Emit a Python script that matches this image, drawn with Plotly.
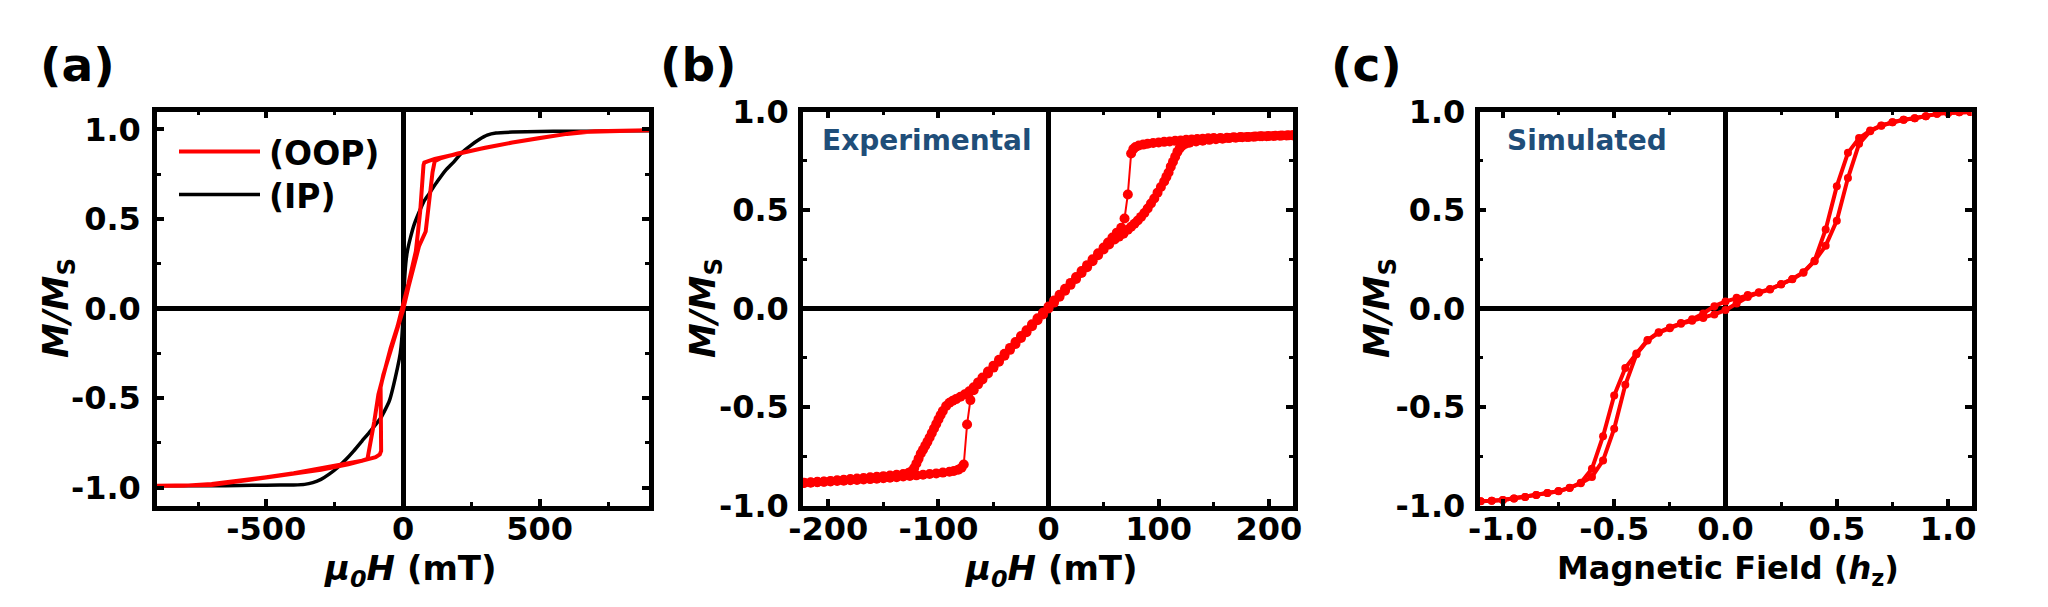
import plotly.graph_objects as go

RED = "#ff0000"
BLACK = "#000000"
LABEL_BLUE = "#1f4e79"
FONT = "DejaVu Sans"
W, H = 2048, 607

# ---- (a) OOP / IP loops, mu0H in mT ----
A_IP_H = [-900, -800, -700, -600, -500, -400, -360, -330, -300, -270, -240, -210, -180,
          -150, -117, -81, -50, -20, -10, -5, 0, 4, 10, 16, 28, 41, 65, 77, 95, 126, 155,
          187, 215, 247, 280, 308, 340, 400, 500, 600, 700, 800, 900]
A_IP_M = [-0.99, -0.99, -0.99, -0.988, -0.987, -0.985, -0.982, -0.972, -0.954, -0.925,
          -0.889, -0.845, -0.795, -0.74, -0.68, -0.61, -0.516, -0.33, -0.25, -0.18, -0.05,
          0.11, 0.25, 0.32, 0.40, 0.47, 0.56, 0.60, 0.64, 0.71, 0.77, 0.82, 0.87, 0.91,
          0.945, 0.968, 0.98, 0.985, 0.988, 0.99, 0.99, 0.992, 0.993]

A_OOP_DOWN_H = [900, 800, 700, 650, 600, 500, 400, 300, 200, 150, 116, 90, 78, 75, 70, 63,
                55, 47, 20, 0, -20, -45, -72, -90, -105, -115, -123, -130, -150, -200,
                -300, -400, -500, -600, -700, -800, -900]
A_OOP_DOWN_M = [0.995, 0.993, 0.99, 0.985, 0.975, 0.952, 0.927, 0.898, 0.866, 0.85, 0.835,
                0.822, 0.815, 0.80, 0.68, 0.544, 0.43, 0.32, 0.14, 0.01, -0.10, -0.22,
                -0.37, -0.48, -0.63, -0.72, -0.80, -0.84, -0.85, -0.865, -0.895, -0.92,
                -0.942, -0.962, -0.98, -0.99, -0.99]

A_OOP_UP_H = [-900, -800, -700, -600, -500, -400, -300, -200, -130, -100, -85, -80, -81,
              -82, -72, -45, -20, 0, 20, 40, 59, 83, 99, 108, 116, 140, 200, 300, 400,
              500, 600, 700, 800, 900]
A_OOP_UP_M = [-0.99, -0.99, -0.985, -0.965, -0.945, -0.922, -0.90, -0.87, -0.845, -0.83,
              -0.815, -0.795, -0.60, -0.44, -0.37, -0.23, -0.11, -0.01, 0.12, 0.25, 0.35,
              0.43, 0.655, 0.76, 0.823, 0.84, 0.866, 0.898, 0.927, 0.952, 0.975, 0.99,
              0.993, 0.995]

# ---- (b) experimental loop, mu0H in mT ----
B_DOWN_H = [222, 216, 210, 204, 198, 192, 186, 180, 174, 168, 162, 156, 150, 145, 140, 135,
            130, 125, 120, 115, 110, 105, 100, 95, 90, 86, 82, 79, 77, 75, 72, 69, 66, 62,
            58, 54, 50, 45, 40, 35, 30, 25, 20, 15, 10, 5, 0, -5, -10, -15, -20, -25, -30,
            -35, -40, -45, -50, -55, -60, -64, -68, -72, -76, -80, -84, -87, -90, -93, -96,
            -98, -100, -102, -104, -106, -108, -110, -112, -114, -116, -118, -120, -122,
            -124, -127, -132, -138, -144, -150, -156, -162, -168, -174, -180, -186, -192,
            -198, -204, -210, -216, -222]
B_DOWN_M = [0.879, 0.878, 0.877, 0.876, 0.875, 0.874, 0.872, 0.871, 0.870, 0.869, 0.867,
            0.866, 0.865, 0.864, 0.862, 0.860, 0.858, 0.856, 0.853, 0.851, 0.848, 0.846,
            0.843, 0.840, 0.836, 0.832, 0.827, 0.820, 0.810, 0.787, 0.579, 0.457, 0.410,
            0.385, 0.360, 0.335, 0.310, 0.280, 0.250, 0.220, 0.190, 0.160, 0.130, 0.100,
            0.070, 0.040, 0.010, -0.020, -0.050, -0.080, -0.110, -0.140, -0.170, -0.200,
            -0.230, -0.260, -0.290, -0.320, -0.350, -0.375, -0.400, -0.420, -0.435,
            -0.448, -0.460, -0.468, -0.478, -0.495, -0.520, -0.541, -0.563, -0.586,
            -0.609, -0.632, -0.655, -0.677, -0.697, -0.717, -0.736, -0.762, -0.787,
            -0.810, -0.825, -0.834, -0.840, -0.844, -0.848, -0.851, -0.854, -0.857,
            -0.860, -0.863, -0.866, -0.869, -0.872, -0.875, -0.878, -0.880, -0.882, -0.884]

B_UP_H = [-222, -216, -210, -204, -198, -192, -186, -180, -174, -168, -162, -156, -150,
          -144, -138, -132, -126, -120, -114, -108, -102, -96, -90, -86, -82, -79, -77, -74,
          -71, -68, -64, -60, -55, -50, -45, -40, -35, -30, -25, -20, -15, -10, -5, 0, 5,
          10, 15, 20, 25, 30, 35, 40, 45, 50, 55, 60, 64, 68, 72, 75, 78, 81, 84, 87, 90,
          93, 96, 99, 102, 105, 107, 109, 111, 113, 115, 117, 119, 121, 124, 128, 134, 140,
          146, 152, 158, 164, 170, 176, 182, 188, 194, 200, 206, 212, 218, 222]
B_UP_M = [-0.886, -0.884, -0.882, -0.880, -0.878, -0.876, -0.874, -0.872, -0.870, -0.868,
          -0.866, -0.864, -0.862, -0.859, -0.856, -0.853, -0.850, -0.847, -0.844, -0.840,
          -0.837, -0.833, -0.829, -0.825, -0.818, -0.808, -0.792, -0.589, -0.465, -0.415,
          -0.385, -0.360, -0.330, -0.300, -0.270, -0.240, -0.210, -0.180, -0.150, -0.120,
          -0.090, -0.060, -0.030, 0.000, 0.030, 0.060, 0.090, 0.120, 0.150, 0.180, 0.210,
          0.240, 0.270, 0.300, 0.325, 0.350, 0.365, 0.380, 0.400, 0.415, 0.430, 0.447,
          0.465, 0.485, 0.508, 0.533, 0.558, 0.588, 0.617, 0.645, 0.668, 0.690, 0.720,
          0.745, 0.770, 0.795, 0.812, 0.825, 0.835, 0.842, 0.848, 0.852, 0.856, 0.859,
          0.862, 0.865, 0.867, 0.869, 0.871, 0.873, 0.875, 0.876, 0.877, 0.878, 0.879,
          0.880]

# ---- (c) simulated loop, reduced field h_z ----
C_H = [1.1, 1.05, 1.0, 0.95, 0.9, 0.85, 0.8, 0.75, 0.7, 0.65, 0.6, 0.55, 0.5, 0.45, 0.4,
       0.35, 0.3, 0.25, 0.2, 0.15, 0.1, 0.05, 0.0, -0.05, -0.1, -0.15, -0.2, -0.25, -0.3,
       -0.35, -0.4, -0.45, -0.5, -0.55, -0.6, -0.65, -0.7, -0.75, -0.8, -0.85, -0.9, -0.95,
       -1.0, -1.05, -1.1]
C_DOWN_M = [0.997, 0.996, 0.993, 0.988, 0.976, 0.966, 0.958, 0.946, 0.929, 0.903, 0.865,
            0.790, 0.621, 0.401, 0.243, 0.184, 0.150, 0.124, 0.099, 0.082, 0.068, 0.055,
            0.036, 0.012, -0.025, -0.055, -0.074, -0.096, -0.120, -0.160, -0.229, -0.302,
            -0.441, -0.648, -0.814, -0.885, -0.910, -0.927, -0.937, -0.947, -0.957,
            -0.964, -0.972, -0.976, -0.978]
C_UP_M = [0.997, 0.996, 0.993, 0.988, 0.976, 0.966, 0.958, 0.946, 0.928, 0.900, 0.836,
          0.662, 0.446, 0.319, 0.240, 0.182, 0.148, 0.122, 0.097, 0.080, 0.058, 0.025,
          -0.008, -0.030, -0.048, -0.062, -0.078, -0.100, -0.123, -0.163, -0.232, -0.387,
          -0.610, -0.771, -0.855, -0.887, -0.911, -0.928, -0.937, -0.947, -0.957, -0.964,
          -0.972, -0.976, -0.978]

M_TICKS = [-1.0, -0.5, 0.0, 0.5, 1.0]
M_TICKTEXT = ["-1.0", "-0.5", "0.0", "0.5", "1.0"]
A_TICKS = [-500, 0, 500]
B_TICKS = [-200, -100, 0, 100, 200]
C_TICKS = [-1.0, -0.5, 0.0, 0.5, 1.0]


def px_x(v):
    return v / W


def px_y(v):
    return 1 - v / H


def axis(domain, rng, vals, text, minor_dtick, anchor, standoff):
    return dict(
        domain=domain, range=rng, anchor=anchor, automargin=False,
        showline=True, mirror="ticks", linecolor=BLACK, linewidth=4.5,
        ticks="inside", ticklen=7, tickwidth=4, tickcolor=BLACK,
        tickvals=vals, ticktext=text, ticklabelstandoff=standoff,
        minor=dict(ticks="inside", ticklen=4, tickwidth=3, tickcolor=BLACK,
                   dtick=minor_dtick, tick0=0, showgrid=False),
        showgrid=False, zeroline=True, zerolinecolor=BLACK, zerolinewidth=4.5,
        tickfont=dict(family=FONT, size=32, color=BLACK, weight="bold"),
    )


fig = go.Figure()
fig.add_trace(go.Scatter(x=A_IP_H, y=A_IP_M, mode="lines", name="(IP)",
                         line=dict(color=BLACK, width=3.5, shape="spline", smoothing=0.5),
                         xaxis="x", yaxis="y"))
fig.add_trace(go.Scatter(x=A_OOP_DOWN_H + A_OOP_UP_H, y=A_OOP_DOWN_M + A_OOP_UP_M,
                         mode="lines", name="(OOP)", line=dict(color=RED, width=4),
                         xaxis="x", yaxis="y"))
for hs, ms in [(B_DOWN_H, B_DOWN_M), (B_UP_H, B_UP_M)]:
    fig.add_trace(go.Scatter(x=hs, y=ms, mode="lines+markers",
                             line=dict(color=RED, width=2), marker=dict(color=RED, size=10),
                             xaxis="x2", yaxis="y2"))
for ms in [C_DOWN_M, C_UP_M]:
    fig.add_trace(go.Scatter(x=C_H, y=ms, mode="lines+markers",
                             line=dict(color=RED, width=4), marker=dict(color=RED, size=8),
                             xaxis="x3", yaxis="y3"))

dom_a = [px_x(149), px_x(641)]
dom_b = [px_x(795), px_x(1285)]
dom_c = [px_x(1471.5), px_x(1963.5)]
dom_y = [px_y(497.5), px_y(103.5)]

fig.update_layout(
    width=W, height=H, margin=dict(l=0, r=0, t=0, b=0),
    paper_bgcolor="white", plot_bgcolor="white", showlegend=False,
    font=dict(family=FONT, color=BLACK),
    xaxis=axis(dom_a, [-900, 900], A_TICKS, ["-500", "0", "500"], 250, "y", -9),
    yaxis=axis(dom_y, [-1.1, 1.1], M_TICKS, M_TICKTEXT, 0.25, "x", 5),
    xaxis2=axis(dom_b, [-223, 222], B_TICKS, ["-200", "-100", "0", "100", "200"], 50, "y2", -9),
    yaxis2=axis(dom_y, [-1.0, 1.0], M_TICKS, M_TICKTEXT, 0.25, "x2", 3),
    xaxis3=axis(dom_c, [-1.105, 1.105], C_TICKS, M_TICKTEXT, 0.25, "y3", -9),
    yaxis3=axis(dom_y, [-1.0, 1.0], M_TICKS, M_TICKTEXT, 0.25, "x3", 3),
)

ann = []


def text(x, y, s, size, **kw):
    ann.append(dict(x=px_x(x), y=px_y(y), xref="paper", yref="paper", text=s,
                    showarrow=False, font=dict(family=FONT, size=size,
                                               color=kw.pop("color", BLACK), weight="bold"),
                    **kw))


# panel labels
for x, s in [(30, "(a)"), (650, "(b)"), (1321, "(c)")]:
    text(x, 57, s, 47, xanchor="left", yanchor="middle")

# axis titles
mu0h = "<i>μ</i><sub><i>0</i></sub><i>H</i> (mT)"
mms = "<i>M/M</i><sub>S</sub>"
text(402, 562, mu0h, 34, xanchor="center", yanchor="middle")
text(1043, 562, mu0h, 34, xanchor="center", yanchor="middle")
text(1720, 562, "Magnetic Field (<i>h</i><sub>z</sub>)", 32, xanchor="center", yanchor="middle")
for x in [50, 697, 1371]:
    text(x, 300, mms, 35, xanchor="center", yanchor="middle", textangle=-90)

# in-panel labels
text(812, 132, "Experimental", 28, xanchor="left", yanchor="middle", color=LABEL_BLUE)
text(1497, 132, "Simulated", 28, xanchor="left", yanchor="middle", color=LABEL_BLUE)

# legend for (a)
text(259, 145, "(OOP)", 33, xanchor="left", yanchor="middle")
text(259, 188, "(IP)", 33, xanchor="left", yanchor="middle")
fig.update_layout(annotations=ann, shapes=[
    dict(type="line", xref="paper", yref="paper", x0=px_x(171), x1=px_x(252),
         y0=px_y(143.5), y1=px_y(143.5), line=dict(color=RED, width=4)),
    dict(type="line", xref="paper", yref="paper", x0=px_x(171), x1=px_x(252),
         y0=px_y(186.5), y1=px_y(186.5), line=dict(color=BLACK, width=3.5)),
])

fig.write_html("out.html")
